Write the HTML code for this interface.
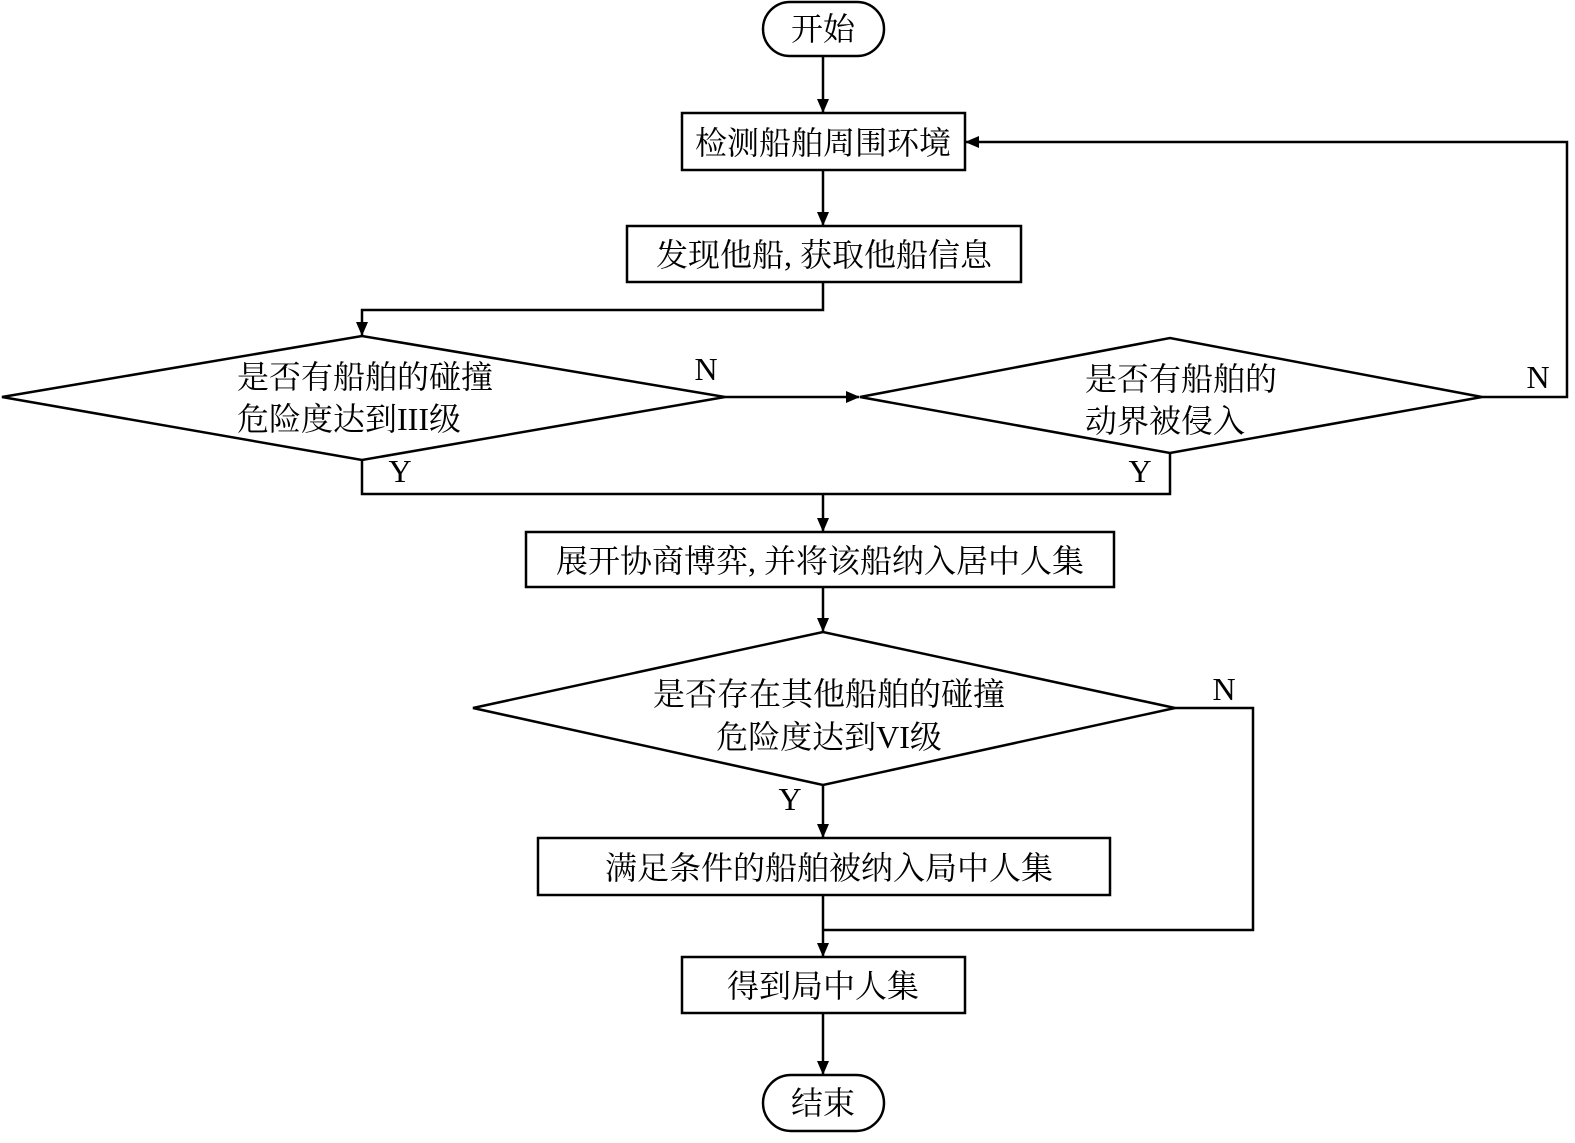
<!DOCTYPE html>
<html><head><meta charset="utf-8"><style>
body{margin:0;background:#fff}
svg text{font-family:"Liberation Serif","Noto Serif CJK SC","Noto Sans CJK SC",serif;fill:#000}
</style></head><body>
<svg width="1575" height="1138" viewBox="0 0 1575 1138" xmlns="http://www.w3.org/2000/svg">
<defs><marker id="a" markerWidth="14" markerHeight="12" refX="13" refY="6" orient="auto" markerUnits="userSpaceOnUse"><path d="M0,0 L14,6 L0,12 z" fill="#000"/></marker></defs>
<g fill="none" stroke="#000" stroke-width="2.5">
<rect x="763" y="2" width="121" height="54" rx="27"/>
<rect x="682" y="113" width="283" height="57"/>
<rect x="627" y="226" width="394" height="56"/>
<polygon points="2,397 362,336 725,397 362,460"/>
<polygon points="860,397 1170,338 1482,397 1170,453"/>
<rect x="526" y="532" width="588" height="55"/>
<polygon points="473,708 823,632 1175,708 823,785"/>
<rect x="538" y="838" width="572" height="57"/>
<rect x="682" y="957" width="283" height="56"/>
<rect x="763" y="1075" width="121" height="56" rx="28"/>
<line x1="823" y1="56" x2="823" y2="112" marker-end="url(#a)"/>
<line x1="823" y1="170" x2="823" y2="225" marker-end="url(#a)"/>
<polyline points="823,282 823,310 362,310 362,335" marker-end="url(#a)"/>
<line x1="725" y1="397" x2="859" y2="397" marker-end="url(#a)"/>
<polyline points="1482,397 1567,397 1567,142 966,142" marker-end="url(#a)"/>
<polyline points="362,460 362,494 1170,494 1170,453"/>
<line x1="823" y1="494" x2="823" y2="531" marker-end="url(#a)"/>
<line x1="823" y1="587" x2="823" y2="631" marker-end="url(#a)"/>
<line x1="823" y1="785" x2="823" y2="837" marker-end="url(#a)"/>
<polyline points="1175,708 1253,708 1253,930 823,930"/>
<line x1="823" y1="895" x2="823" y2="956" marker-end="url(#a)"/>
<line x1="823" y1="1013" x2="823" y2="1074" marker-end="url(#a)"/>
</g>
<g font-size="32">
<text x="823" y="40" text-anchor="middle">开始</text>
<text x="823" y="154" text-anchor="middle">检测船舶周围环境</text>
<text x="824" y="266" text-anchor="middle">发现他船, 获取他船信息</text>
<text x="237" y="388">是否有船舶的碰撞</text>
<text x="237" y="430">危险度达到III级</text>
<text x="1085" y="390">是否有船舶的</text>
<text x="1085" y="432">动界被侵入</text>
<text x="820" y="572" text-anchor="middle">展开协商博弈, 并将该船纳入居中人集</text>
<text x="829" y="705" text-anchor="middle">是否存在其他船舶的碰撞</text>
<text x="829" y="748" text-anchor="middle">危险度达到VI级</text>
<text x="829" y="879" text-anchor="middle">满足条件的船舶被纳入局中人集</text>
<text x="823" y="997" text-anchor="middle">得到局中人集</text>
<text x="823" y="1114" text-anchor="middle">结束</text>
<text x="706" y="380" text-anchor="middle">N</text>
<text x="1538" y="388" text-anchor="middle">N</text>
<text x="1224" y="700" text-anchor="middle">N</text>
<text x="400" y="482" text-anchor="middle">Y</text>
<text x="1140" y="482" text-anchor="middle">Y</text>
<text x="790" y="810" text-anchor="middle">Y</text>
</g>
</svg>
</body></html>
